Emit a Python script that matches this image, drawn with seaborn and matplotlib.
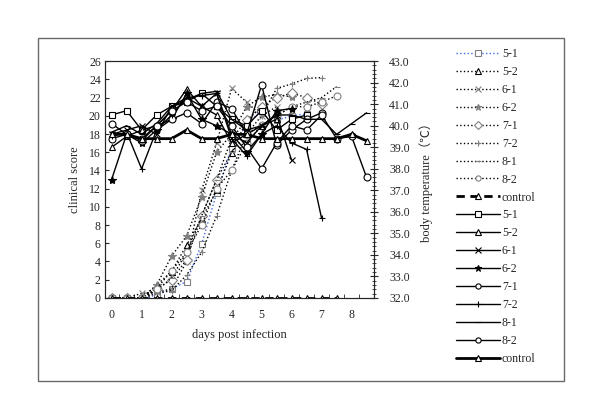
import matplotlib
matplotlib.use('Agg')
import matplotlib.pyplot as plt
import matplotlib.patches as mpatches
from matplotlib.ticker import MultipleLocator, FormatStrFormatter
import numpy as np
import seaborn as sns

# sampling days (every half day)
days = [0, 0.5, 1, 1.5, 2, 2.5, 3, 3.5, 4, 4.5, 5, 5.5, 6, 6.5, 7, 7.5, 8, 8.5]

# clinical scores (dotted lines, left axis)
score_51 = [0, 0, 0, 0.3, 1.0, 1.8, 5.9, 11.5, 16.5, 19.0, 20.6, 19.5, 20.0, 20.2]
score_52 = [0, 0, 0, 1.4, 2.9, 5.8, 8.7, 11.8, 15.9, 19.5, 21.0]
score_61 = [0, 0, 0.5, 0.6, 1.0, 4.0, 11.8, 17.0, 23.0, 21.5, 20.0, 21.0]
score_62 = [0, 0, 0, 1.4, 4.6, 6.8, 11.1, 16.0, 18.0, 21.0, 22.1, 22.3, 22.1]
score_71 = [0, 0, 0, 1.0, 2.0, 4.2, 9.0, 13.0, 17.5, 19.5, 21.0, 22.0, 22.5, 22.0, 21.3]
score_72 = [0, 0, 0, 0.5, 0.8, 2.5, 5.0, 9.0, 14.0, 18.0, 20.0, 23.0, 23.5, 24.1, 24.2]
score_81 = [0, 0, 0, 0.8, 2.2, 5.0, 9.0, 13.0, 16.0, 18.0, 19.0, 20.0, 21.0, 21.5, 22.0, 23.2]
score_82 = [0, 0, 0, 1.0, 3.0, 5.0, 8.0, 12.0, 14.0, 17.0, 19.0, 20.0, 21.0, 21.0, 21.5, 22.2]
score_ctrl = [0] * 16

# body temperature in degrees C (solid lines, right axis)
temp_51 = [40.5, 40.7, 39.8, 40.5, 40.9, 41.1, 41.5, 40.9, 40.3, 40.0, 40.7, 39.8, 40.3, 40.5]
temp_52 = [39.0, 39.5, 39.8, 40.0, 40.7, 41.7, 40.9, 40.5, 39.2, 39.6, 40.0, 40.3]
temp_61 = [39.6, 39.8, 40.0, 39.6, 40.9, 41.3, 40.9, 41.5, 39.6, 39.2, 40.0, 40.5, 38.4]
temp_62 = [37.5, 39.6, 39.2, 39.8, 40.3, 41.5, 40.3, 40.0, 39.6, 38.8, 39.6, 40.7, 40.8]
temp_71 = [39.4, 39.6, 39.3, 40.0, 40.3, 40.6, 40.1, 41.1, 40.8, 39.6, 41.9, 39.1, 39.8, 40.3, 40.6]
temp_72 = [39.5, 39.7, 38.0, 39.8, 40.5, 41.3, 41.4, 41.5, 39.4, 38.6, 39.6, 40.0, 39.2, 38.9, 35.7]
temp_81 = [39.7, 40.0, 39.6, 40.1, 40.9, 41.2, 41.5, 41.6, 40.3, 39.8, 40.0, 40.5, 40.5, 40.3,
           40.3, 39.6, 40.1, 40.6]
temp_82 = [40.1, 39.6, 39.4, 40.0, 40.7, 41.1, 40.7, 40.9, 40.0, 39.0, 38.0, 39.2, 40.0, 39.8,
           40.5, 39.4, 39.5, 37.6]
temp_ctrl = [39.6, 39.6, 39.4, 39.4, 39.4, 39.8, 39.4, 39.4, 39.6, 39.6, 39.4, 39.4, 39.4, 39.4,
             39.4, 39.4, 39.6, 39.3]

labels = ['5-1', '5-2', '6-1', '6-2', '7-1', '7-2', '8-1', '8-2', 'control']
scores = [score_51, score_52, score_61, score_62, score_71, score_72, score_81, score_82, score_ctrl]
temps = [temp_51, temp_52, temp_61, temp_62, temp_71, temp_72, temp_81, temp_82, temp_ctrl]

# marker styles: (marker, face colour, edge colour) for dotted, (marker, face) for solid
dot_styles = [('s', 'white', 'gray'), ('^', 'white', 'black'), ('x', 'gray', 'gray'),
              ('*', 'gray', 'gray'), ('D', 'white', 'gray'), ('+', 'gray', 'gray'),
              ('_', 'gray', 'gray'), ('o', 'white', 'gray'), ('^', 'white', 'black')]
solid_styles = [('s', 'white'), ('^', 'white'), ('x', 'black'), ('*', 'black'),
                ('o', 'white'), ('+', 'black'), ('_', 'black'), ('o', 'white'), ('^', 'white')]

sns.set_style('ticks')
plt.rcParams['font.family'] = ['Liberation Serif', 'Noto Sans CJK SC']
plt.rcParams['font.size'] = 8

fig = plt.figure(figsize=(6, 4.19), dpi=100)
ax = fig.add_axes([0.175, 0.289, 0.448, 0.565])
ax2 = ax.twinx()

for i, (lab, vals) in enumerate(zip(labels, scores)):
    m, fc, ec = dot_styles[i]
    col = 'royalblue' if i == 0 else 'black'
    ls = (0, (3, 2)) if lab == 'control' else ':'
    lw = 2 if lab == 'control' else 1
    ms = 6 if m == '*' else 5
    sns.lineplot(x=days[:len(vals)], y=vals, ax=ax, color=col, linestyle=ls, linewidth=lw,
                 marker=m, markersize=ms, markerfacecolor=fc, markeredgecolor=ec,
                 markeredgewidth=0.8, label=lab, legend=False)

for i, (lab, vals) in enumerate(zip(labels, temps)):
    m, fc = solid_styles[i]
    lw = 2 if lab == 'control' else 1
    ms = 6 if m == '*' else 5
    sns.lineplot(x=days[:len(vals)], y=vals, ax=ax2, color='black', linestyle='-', linewidth=lw,
                 marker=m, markersize=ms, markerfacecolor=fc, markeredgecolor='black',
                 markeredgewidth=0.8, label=lab, legend=False)

ax.set_xlim(-0.22, 8.74)
ax.set_ylim(0, 26)
ax2.set_ylim(32, 43)
ax.set_xticks(range(0, 9))
ax.xaxis.set_minor_locator(matplotlib.ticker.FixedLocator(np.arange(-0.25, 8.8, 0.5)))
ax.tick_params(axis='x', which='major', length=0, pad=8)
ax.tick_params(axis='x', which='minor', direction='in', length=3)
ax.set_yticks(range(0, 27, 2))
ax.tick_params(axis='y', direction='in', length=3, pad=3)
ax2.yaxis.set_major_locator(MultipleLocator(1))
ax2.yaxis.set_minor_locator(MultipleLocator(0.2))
ax2.yaxis.set_major_formatter(FormatStrFormatter('%.1f'))
ax2.tick_params(axis='y', which='major', direction='inout', length=6, pad=8)
ax2.tick_params(axis='y', which='minor', direction='inout', length=3)
ax.tick_params(labelsize=8.5)
ax2.tick_params(labelsize=8.5)

ax.set_xlabel('days post infection', fontsize=9, labelpad=6)
ax.set_ylabel('clinical score', fontsize=9, labelpad=6)
ax2.set_ylabel('body temperature（℃）', fontsize=9, labelpad=7)

for a in (ax, ax2):
    for s in a.spines.values():
        s.set_linewidth(0.8)

h1, l1 = ax.get_legend_handles_labels()
h2, l2 = ax2.get_legend_handles_labels()
fig.legend(h1 + h2, l1 + l2, loc='upper left', bbox_to_anchor=(0.752, 0.896),
           frameon=False, fontsize=8.5, handlelength=3.7, handletextpad=0.2,
           labelspacing=0.5, borderaxespad=0, markerscale=0.75)

fig.add_artist(mpatches.Rectangle((38 / 600, 38 / 419), 526 / 600, 343 / 419,
                                  transform=fig.transFigure, fill=False,
                                  edgecolor='dimgray', linewidth=1))

fig.savefig('out.png', dpi=100)
